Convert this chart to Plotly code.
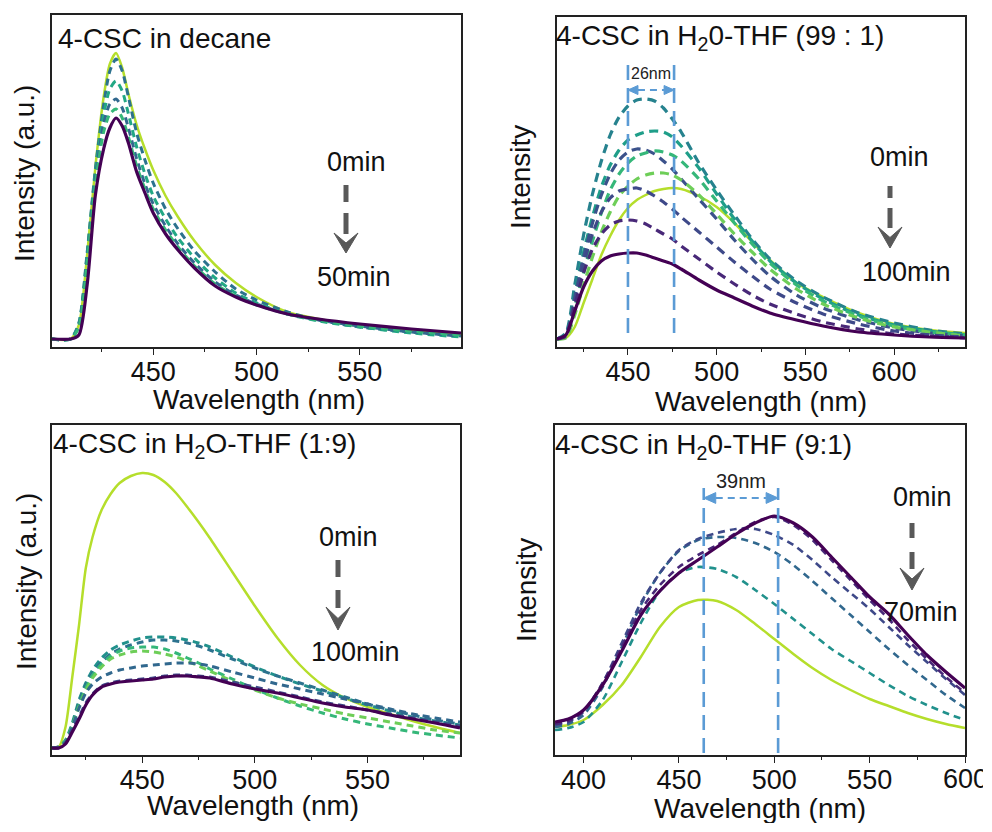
import plotly.graph_objects as go

# page geometry: the figure sits inside the default 8px page margin
OFF = 8
FIG_W, FIG_H = 975, 815
FONT = "Liberation Sans, Arial, sans-serif"

# ---------------- data (intensity in a.u.) ----------------
# (a) 4-CSC in decane, 0 -> 50 min
A_WL = [401, 410, 414, 418, 422, 426, 429, 432, 435, 438, 442, 446, 450, 456, 462, 470, 480, 490, 500, 515, 530, 550, 575, 599]
A_0MIN = [8, 8, 22, 92, 180, 250, 283, 294, 279, 253, 222, 198, 177, 151, 130, 106, 82, 64, 50, 35, 28, 21, 16, 12]
A_10MIN = [8, 8, 24, 94, 178, 242, 276, 288, 276, 250, 214, 187, 164, 138, 118, 96, 75, 58, 47, 35, 27, 20, 15, 11]
A_20MIN = [8, 8, 23, 92, 174, 232, 258, 266, 256, 233, 200, 173, 151, 128, 109, 89, 69, 54, 44, 33, 26, 20, 14, 10]
A_30MIN = [8, 8, 21, 88, 168, 223, 243, 248, 239, 219, 188, 163, 143, 121, 103, 84, 65, 52, 43, 33, 27, 21, 15, 11]
A_40MIN = [8, 8, 20, 84, 163, 215, 233, 238, 229, 210, 181, 158, 138, 117, 100, 81, 63, 51, 42, 33, 27, 21, 16, 12]
A_50MIN = [8, 8, 12, 62, 152, 198, 219, 229, 221, 204, 175, 154, 134, 113, 97, 79, 61, 50, 42, 33, 28, 23, 18, 14]
A_TICKS = [450, 500, 550]
A_MINOR = [425, 475, 525, 575]

# (b) 4-CSC in H2O-THF (99:1), 0 -> 100 min
B_WL = [410, 415, 420, 425, 430, 435, 440, 445, 450, 455, 460, 465, 470, 475, 480, 490, 500, 510, 520, 530, 545, 560, 580, 600, 620, 640]
B_0MIN = [8, 9, 20, 44, 68, 92, 111, 127, 139, 147, 152, 156, 158, 159, 158, 151, 140, 124, 105, 87, 64, 50, 34, 23, 17, 14]
B_T1 = [8, 14, 62, 112, 153, 186, 212, 230, 241, 247, 248, 246, 239, 228, 215, 184, 157, 132, 108, 88, 66, 50, 34, 24, 17, 13]
B_T2 = [8, 12, 52, 95, 130, 160, 182, 197, 207, 212, 215, 216, 215, 210, 201, 179, 153, 128, 106, 86, 64, 48, 32, 22, 16, 12]
B_T3 = [8, 12, 50, 90, 124, 152, 173, 187, 195, 198, 197, 193, 186, 178, 168, 148, 128, 107, 88, 71, 52, 39, 27, 19, 14, 11]
B_T4 = [8, 10, 40, 75, 106, 134, 157, 173, 184, 191, 194, 196, 195, 192, 186, 168, 146, 124, 103, 84, 62, 46, 31, 21, 15, 12]
B_T5 = [8, 9, 32, 62, 90, 115, 135, 151, 161, 168, 172, 174, 174, 172, 167, 152, 133, 113, 95, 78, 58, 43, 29, 20, 15, 11]
B_T6 = [8, 12, 46, 83, 113, 135, 149, 156, 158, 159, 156, 151, 145, 138, 130, 115, 100, 85, 71, 58, 44, 33, 23, 16, 12, 10]
B_T7 = [8, 11, 42, 74, 98, 113, 122, 126, 127, 126, 123, 118, 113, 108, 101, 88, 75, 63, 52, 43, 33, 25, 18, 13, 11, 9]
B_100MIN = [8, 12, 36, 60, 76, 86, 91, 93, 94, 94, 92, 89, 86, 83, 78, 67, 57, 49, 41, 34, 27, 21, 15, 12, 10, 9]
B_TICKS = [450, 500, 550, 600]
B_MINOR = [425, 475, 525, 575, 625]
B_SHIFT = [450, 476]

# (c) 4-CSC in H2O-THF (1:9), 0 -> 100 min
C_WL = [410, 413, 416, 419, 422, 425, 428, 432, 436, 440, 445, 450, 455, 460, 465, 470, 475, 480, 490, 500, 510, 520, 530, 540, 550, 560, 570, 580, 591]
C_0MIN = [7, 8, 28, 78, 130, 187, 218, 245, 261, 272, 279, 282, 280, 273, 262, 248, 233, 217, 183, 149, 117, 90, 70, 57, 48, 41, 34, 28, 22]
C_T1 = [7, 8, 15, 32, 55, 72, 85, 97, 105, 110, 114, 117, 118, 118, 117, 115, 112, 108, 98, 88, 79, 71, 64, 57, 50, 44, 38, 34, 30]
C_T2 = [7, 8, 14, 30, 52, 70, 82, 93, 101, 106, 110, 113, 115, 115, 114, 112, 109, 105, 96, 87, 79, 72, 65, 58, 51, 45, 40, 35, 31]
C_T3 = [7, 8, 14, 30, 50, 67, 80, 91, 99, 104, 107, 108, 108, 106, 102, 97, 92, 86, 76, 66, 57, 49, 42, 36, 31, 27, 23, 20, 17]
C_T4 = [7, 8, 13, 28, 48, 64, 77, 88, 96, 100, 103, 104, 103, 101, 98, 94, 89, 84, 74, 65, 57, 51, 46, 41, 37, 33, 29, 25, 22]
C_T5 = [7, 8, 13, 28, 47, 62, 71, 78, 82, 85, 87, 89, 90, 91, 92, 92, 91, 89, 83, 77, 71, 66, 61, 56, 51, 46, 41, 37, 33]
C_T6 = [7, 7, 12, 25, 38, 52, 61, 69, 72, 74, 75, 76, 77, 79, 80, 80, 79, 78, 73, 68, 63, 58, 53, 49, 45, 41, 37, 33, 29]
C_100MIN = [7, 7, 11, 23, 36, 50, 60, 68, 71, 73, 74, 75, 76, 78, 79, 79, 78, 77, 71, 66, 62, 57, 52, 48, 45, 40, 36, 32, 27]
C_TICKS = [450, 500, 550]
C_MINOR = [425, 475, 525, 575]

# (d) 4-CSC in H2O-THF (9:1), 0 -> 70 min
D_WL = [385, 392, 400, 410, 420, 430, 440, 450, 460, 470, 480, 490, 500, 510, 520, 530, 540, 550, 560, 570, 580, 590, 600]
D_0MIN = [28, 30, 35, 50, 70, 98, 128, 148, 155, 154, 145, 131, 116, 101, 87, 75, 65, 56, 49, 42, 36, 31, 27]
D_T1 = [25, 27, 33, 55, 93, 132, 164, 182, 188, 186, 178, 165, 151, 136, 121, 106, 94, 82, 70, 59, 50, 42, 35]
D_T2 = [28, 31, 40, 68, 108, 150, 182, 204, 215, 218, 217, 212, 203, 190, 174, 157, 140, 123, 106, 90, 75, 60, 47]
D_T3 = [30, 33, 43, 72, 112, 152, 182, 205, 216, 222, 226, 226, 220, 210, 195, 178, 162, 146, 128, 110, 93, 76, 60]
D_T4 = [31, 34, 44, 72, 108, 145, 170, 188, 200, 210, 222, 233, 238, 230, 215, 195, 175, 155, 136, 115, 96, 78, 62]
D_70MIN = [33, 36, 45, 70, 104, 140, 164, 182, 195, 208, 221, 232, 239, 232, 218, 198, 178, 158, 141, 120, 100, 83, 67]
D_TICKS = [400, 450, 500, 550, 600]
D_MINOR = [425, 475, 525, 575]
D_SHIFT = [463, 502]

# ---------------- styles ----------------
YEL, PUR = "#b5de2b", "#440154"
SOLID_Y = dict(color=YEL, width=2.5, dash="solid")
SOLID_P = dict(color=PUR, width=3.2, dash="solid")


def dashed(c, w=3.0, pat="7px,5px"):
    return dict(color=c, width=w, dash=pat)


PANELS = [
    dict(box=(52, 15, 461, 347), xr=[401, 599], yr=[0, 332], wl=A_WL, ticks=A_TICKS, minor=A_MINOR,
         series=[(A_0MIN, SOLID_Y), (A_10MIN, dashed("#2c728e")), (A_20MIN, dashed("#22a884")),
                 (A_30MIN, dashed("#31688e")), (A_40MIN, dashed("#35b779")), (A_50MIN, SOLID_P)]),
    dict(box=(557, 17, 965, 347), xr=[410, 640], yr=[0, 330], wl=B_WL, ticks=B_TICKS, minor=B_MINOR,
         series=[(B_0MIN, SOLID_Y), (B_T1, dashed("#26828e", 3.2, "9px,6px")), (B_T2, dashed("#1f9e89", 3.2, "9px,6px")),
                 (B_T3, dashed("#3b528b", 3.2, "9px,6px")), (B_T4, dashed("#35b779", 3.2, "9px,6px")),
                 (B_T5, dashed("#6ece58", 3.2, "9px,6px")), (B_T6, dashed("#3e4989", 3.2, "9px,6px")),
                 (B_T7, dashed("#482878", 3.2, "9px,6px")), (B_100MIN, SOLID_P)]),
    dict(box=(52, 425, 460, 755), xr=[410, 591], yr=[0, 330], wl=C_WL, ticks=C_TICKS, minor=C_MINOR,
         series=[(C_0MIN, SOLID_Y), (C_T1, dashed("#21918c")), (C_T2, dashed("#2c728e")),
                 (C_T3, dashed("#35b779")), (C_T4, dashed("#6ece58")), (C_T5, dashed("#31688e")),
                 (C_T6, dashed("#3e4989")), (C_100MIN, SOLID_P)]),
    dict(box=(555, 425, 965, 755), xr=[385, 600], yr=[0, 330], wl=D_WL, ticks=D_TICKS, minor=D_MINOR,
         series=[(D_0MIN, SOLID_Y), (D_T1, dashed("#21918c", 2.6)), (D_T2, dashed("#31688e", 2.6)),
                 (D_T3, dashed("#3e4989", 2.6)), (D_T4, dashed("#482878", 2.6)), (D_70MIN, SOLID_P)]),
]


def px(x):
    return (x - OFF) / FIG_W


def py(y):
    return 1 - (y - OFF) / FIG_H


def lam_px(p, lam):
    b, xr = p["box"], p["xr"]
    return b[0] + (lam - xr[0]) / (xr[1] - xr[0]) * (b[2] - b[0])


fig = go.Figure()
layout = dict(width=FIG_W, height=FIG_H, margin=dict(l=0, r=0, t=0, b=0), paper_bgcolor="white",
              plot_bgcolor="white", showlegend=False, font=dict(family=FONT, color="#111"))

ann = []


def text(s, x, y, size=27, xanchor="center", angle=0, color="#111"):
    ann.append(dict(text=s, x=px(x), y=py(y), xref="paper", yref="paper", showarrow=False,
                    xanchor=xanchor, yanchor="middle", textangle=angle,
                    font=dict(size=size, color=color, family=FONT)))


for i, p in enumerate(PANELS):
    n = "" if i == 0 else str(i + 1)
    l, t, r, b = p["box"]
    # a label sitting on the right frame edge is written as text so it is not hidden past the page edge
    edge = [v for v in p["ticks"] if v >= p["xr"][1]]
    labels = ["" if v in edge else str(v) for v in p["ticks"]]
    layout["xaxis" + n] = dict(
        domain=[px(l), px(r)], range=p["xr"], anchor="y" + n, showline=True, linecolor="#222",
        linewidth=1.5, mirror=True, ticks="outside", ticklen=6, tickwidth=1.4, tickcolor="#222",
        tickmode="array", tickvals=p["ticks"], ticktext=labels,
        ticklabelstandoff=-6,
        tickfont=dict(size=27, color="#111", family=FONT), showgrid=False, zeroline=False,
        minor=dict(tickmode="array", tickvals=p["minor"], ticks="outside", ticklen=3, tickwidth=1.2,
                   tickcolor="#222", showgrid=False))
    layout["yaxis" + n] = dict(
        domain=[py(b), py(t)], range=p["yr"], anchor="x" + n, showline=True, linecolor="#222",
        linewidth=1.5, mirror=True, ticks="", showticklabels=False, showgrid=False, zeroline=False)
    for v in edge:
        text(str(v), lam_px(p, v), b + 24, 27)
    for vals, st in p["series"]:
        fig.add_trace(go.Scatter(x=p["wl"], y=vals, mode="lines", xaxis="x" + n, yaxis="y" + n,
                                 line=dict(color=st["color"], width=st["width"], dash=st["dash"],
                                           shape="spline", smoothing=0.7),
                                 hoverinfo="skip"))

# panel titles
text("4-CSC in decane", 56, 38, 28, "left")
text("4-CSC in H<sub>2</sub>0-THF (99 : 1)", 554, 37, 28, "left")
text("4-CSC in H<sub>2</sub>O-THF (1:9)", 51, 445, 28, "left")
text("4-CSC in H<sub>2</sub>0-THF (9:1)", 553, 446, 28, "left")

# axis titles
text("Wavelength (nm)", 259, 399, 28)
text("Wavelength (nm)", 761, 401, 28)
text("Wavelength (nm)", 253, 805, 28)
text("Wavelength (nm)", 760, 808, 28)
text("Intensity (a.u.)", 25, 174, 28, angle=-90)
text("Intensity", 520, 177, 28, angle=-90)
text("Intensity (a.u.)", 26, 582, 28, angle=-90)
text("Intensity", 526, 590, 28, angle=-90)

# time labels
text("0min", 356, 162)
text("50min", 354, 277)
text("0min", 899, 157)
text("100min", 906, 272)
text("0min", 348, 537)
text("100min", 355, 652)
text("0min", 922, 497)
text("70min", 921, 612)

shapes = []
GRAY = "#595959"


def time_arrow(x, segs, top, tip):
    for y0, y1 in segs:
        shapes.append(dict(type="line", xref="paper", yref="paper", x0=px(x), x1=px(x), y0=py(y0), y1=py(y1),
                           line=dict(color=GRAY, width=5)))
    half = 12
    path = "M {},{} L {},{} L {},{} L {},{} Z".format(
        px(x - half), py(top), px(x), py(tip), px(x + half), py(top), px(x), py(top + (tip - top) * 0.5))
    shapes.append(dict(type="path", xref="paper", yref="paper", path=path, fillcolor=GRAY,
                       line=dict(color=GRAY, width=1)))


time_arrow(346, [(185, 202), (213, 234)], 233, 253)
time_arrow(890, [(186, 198), (208, 228)], 227, 248)
time_arrow(338, [(560, 577), (590, 608)], 607, 630)
time_arrow(912, [(523, 538), (552, 569)], 568, 590)

BLUE = "#5b9bd5"


def shift_marker(p, lams, ytop, ybot, yarr, label, lsize, ylab, ah):
    xs = [lam_px(p, v) for v in lams]
    for xv in xs:
        shapes.append(dict(type="line", xref="paper", yref="paper", x0=px(xv), x1=px(xv), y0=py(ybot),
                           y1=py(ytop), line=dict(color=BLUE, width=2.6, dash="15px,8px")))
    shapes.append(dict(type="line", xref="paper", yref="paper", x0=px(xs[0] + ah), x1=px(xs[1] - ah),
                       y0=py(yarr), y1=py(yarr), line=dict(color=BLUE, width=2, dash="7px,5px")))
    for tipx, d in ((xs[0], 1), (xs[1], -1)):
        path = "M {},{} L {},{} L {},{} Z".format(
            px(tipx), py(yarr), px(tipx + d * ah), py(yarr - ah * 0.45), px(tipx + d * ah), py(yarr + ah * 0.45))
        shapes.append(dict(type="path", xref="paper", yref="paper", path=path, fillcolor=BLUE,
                           line=dict(color=BLUE, width=1)))
    text(label, (xs[0] + xs[1]) / 2, ylab, lsize, color="#222")


shift_marker(PANELS[1], B_SHIFT, 57, 333, 90, "26nm", 16, 74, 10)
shift_marker(PANELS[3], D_SHIFT, 488, 753, 498, "39nm", 20, 481, 12)

layout["annotations"] = ann
layout["shapes"] = shapes
fig.update_layout(**layout)
fig.write_html("out.html", config={"displayModeBar": False})
